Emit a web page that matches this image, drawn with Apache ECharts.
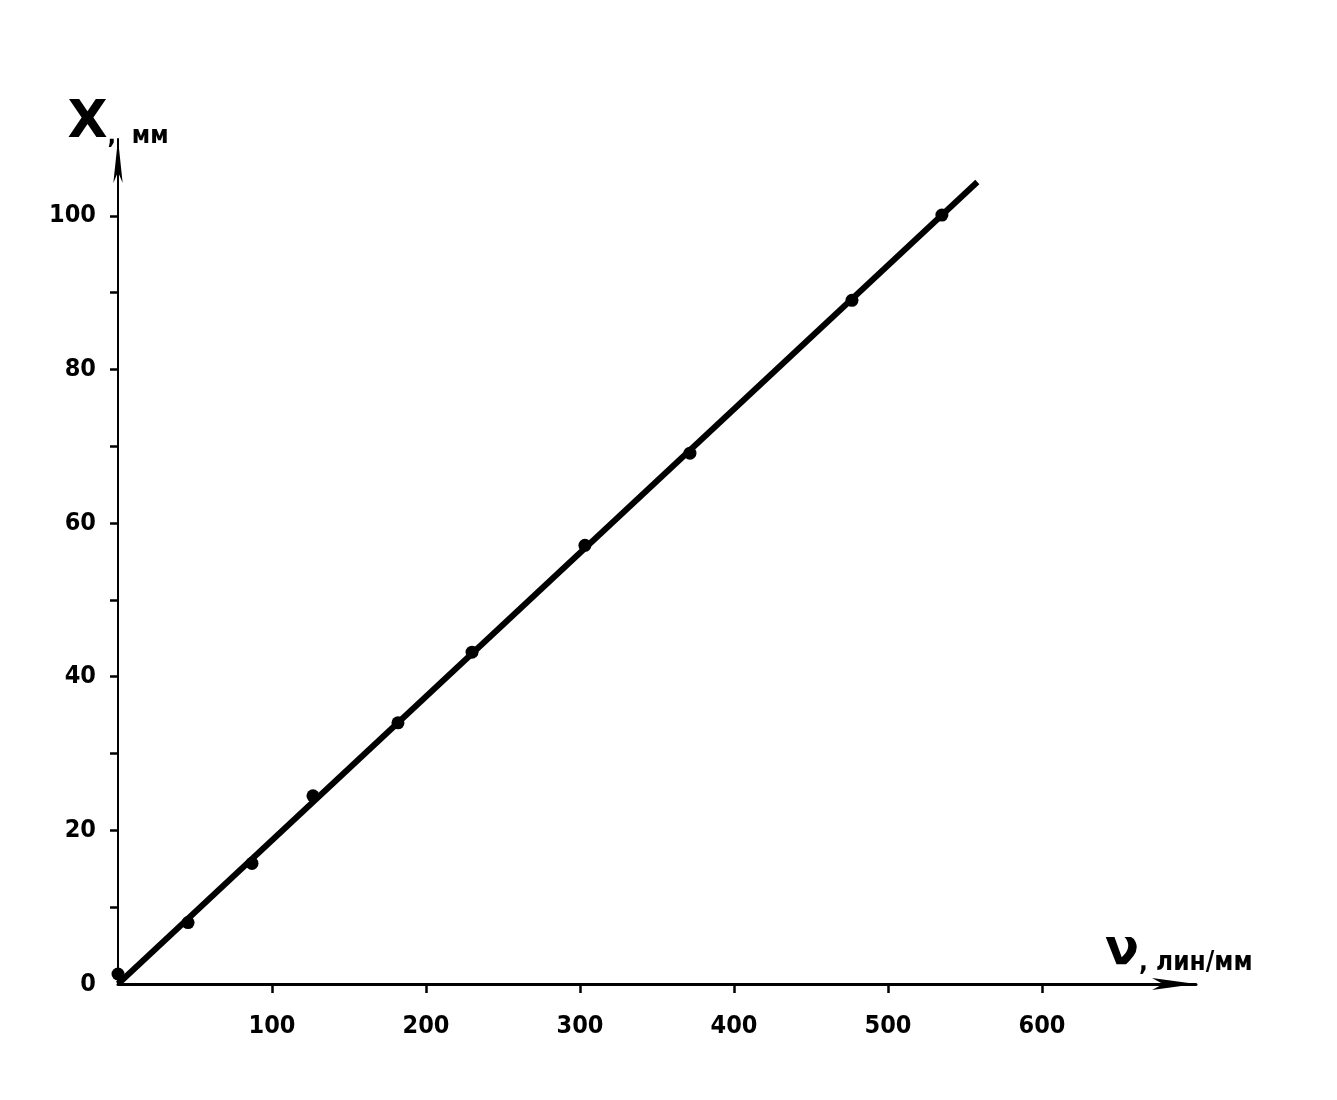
<!DOCTYPE html>
<html>
<head>
<meta charset="utf-8">
<script src="https://cdn.jsdelivr.net/npm/echarts@6/dist/echarts.min.js"></script>
<style>
html,body{margin:0;padding:0;background:#fff;}
#chart{width:1337px;height:1100px;}
</style>
</head>
<body>
<div id="chart"></div>
<script>
// Measured points: spatial frequency ν (lines/mm) vs displacement X
const nuValues = [0, 45.5, 87, 126.6, 181.8, 229.9, 303.2, 371.4, 476.6, 535];
const xValues  = [1.3, 8.0, 15.7, 24.5, 34.0, 43.2, 57.1, 69.1, 89.0, 100.1];
// Fitted straight line (start and end)
const fitNu = [0, 558];
const fitX  = [0, 104.4];
// Axis ticks and labels
const xTickValues  = [100, 200, 300, 400, 500, 600];
const xLabelValues = [100, 200, 300, 400, 500, 600];
const yTickValues  = [10, 20, 30, 40, 50, 60, 70, 80, 90, 100];
const yLabelValues = [0, 20, 40, 60, 80, 100];

const points = nuValues.map((v, i) => [v, xValues[i]]);
const fitLine = fitNu.map((v, i) => [v, fitX[i]]);

const labelFont = {
  color: '#000',
  fontFamily: 'DejaVu Sans Condensed',
  fontWeight: 'bold',
  fontSize: 25
};

const chart = echarts.init(document.getElementById('chart'));
chart.setOption({
  animation: false,
  backgroundColor: '#fff',
  grid: { left: 118, right: 141, top: 139, bottom: 116 },
  xAxis: {
    type: 'value',
    min: 0, max: 700, interval: 100,
    name: '{big|ν}{small|, лин/мм}',
    nameLocation: 'end',
    nameGap: -91,
    nameTextStyle: {
      align: 'left', verticalAlign: 'bottom', padding: [0, 0, 8, 0],
      rich: {
        big: { fontFamily: 'DejaVu Sans', fontWeight: 'bold', fontSize: 50, color: '#000' },
        small: { fontFamily: 'DejaVu Sans Condensed', fontWeight: 'bold', fontSize: 26, color: '#000', verticalAlign: 'bottom' }
      }
    },
    axisLine: { show: true, onZero: false, symbol: ['none', 'arrow'], symbolSize: [9, 44], lineStyle: { color: '#000', width: 3 } },
    axisTick: { show: true, customValues: xTickValues, length: 9, lineStyle: { color: '#000', width: 2.5 } },
    axisLabel: Object.assign({ customValues: xLabelValues, margin: 30 }, labelFont),
    splitLine: { show: false }
  },
  yAxis: {
    type: 'value',
    min: 0, max: 110, interval: 10,
    name: '{big|X}{small|,  мм}',
    nameLocation: 'end',
    nameGap: -10,
    nameTextStyle: {
      align: 'center', verticalAlign: 'bottom', padding: [0, 0, 0, 0],
      rich: {
        big: { fontFamily: 'DejaVu Sans', fontWeight: 'bold', fontSize: 52, color: '#000' },
        small: { fontFamily: 'DejaVu Sans Condensed', fontWeight: 'bold', fontSize: 25, color: '#000', verticalAlign: 'bottom' }
      }
    },
    axisLine: { show: true, onZero: false, symbol: ['none', 'arrow'], symbolSize: [7, 44], lineStyle: { color: '#000', width: 2 } },
    axisTick: { show: true, customValues: yTickValues, length: 8, lineStyle: { color: '#000', width: 2.5 } },
    axisLabel: Object.assign({ customValues: yLabelValues, margin: 22 }, labelFont),
    splitLine: { show: false }
  },
  series: [
    {
      type: 'line',
      data: fitLine,
      symbol: 'none',
      lineStyle: { color: '#000', width: 6 },
      z: 2
    },
    {
      type: 'scatter',
      data: points,
      symbol: 'circle',
      symbolSize: 13,
      itemStyle: { color: '#000', opacity: 1 },
      z: 3
    }
  ]
});
</script>
</body>
</html>
